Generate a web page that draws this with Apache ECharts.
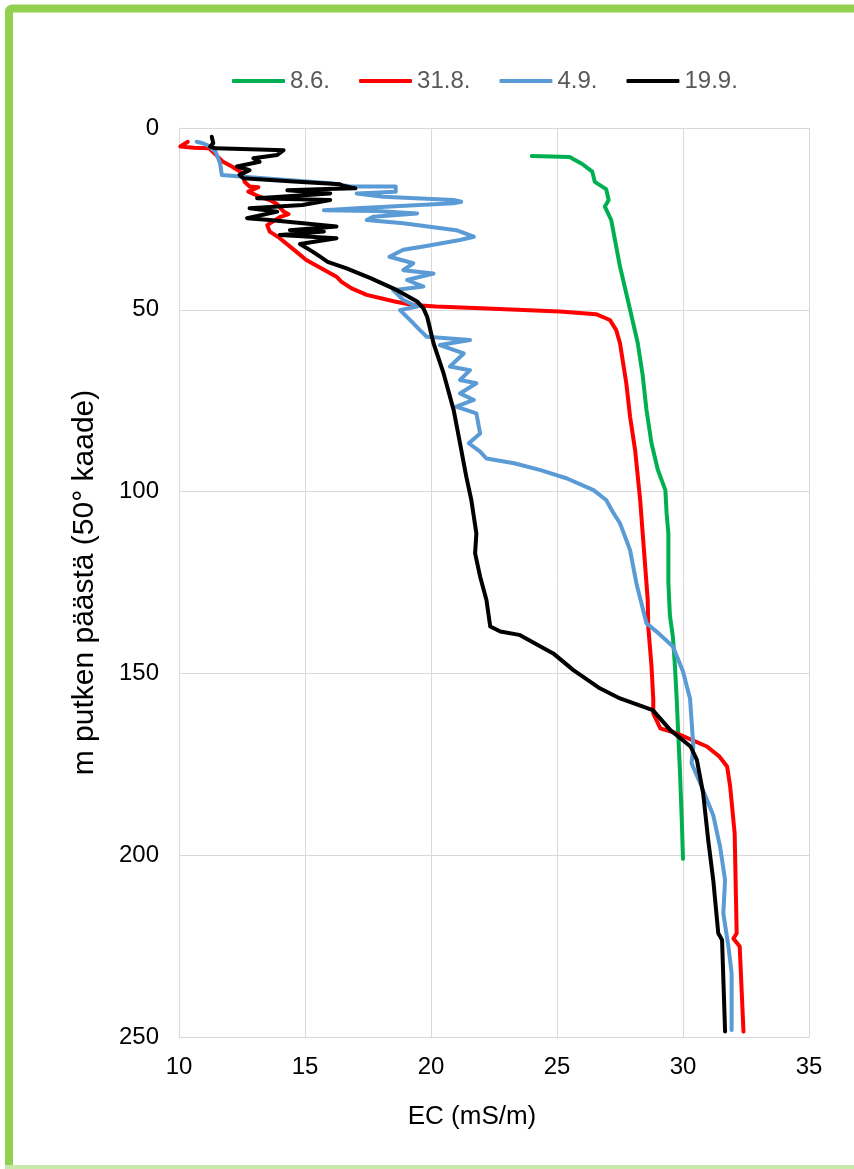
<!DOCTYPE html>
<html>
<head>
<meta charset="utf-8">
<script src="https://cdn.jsdelivr.net/npm/echarts@6/dist/echarts.min.js"></script>
<style>
  html, body { margin: 0; padding: 0; background: #ffffff; }
  #chart { width: 854px; height: 1169px; }
</style>
</head>
<body>
<div id="chart"></div>
<script>
// ---- data: [EC (mS/m), depth (m)] ----
const seriesNames = ['8.6.', '31.8.', '4.9.', '19.9.'];
const seriesColors = ['#00B050', '#FF0000', '#5B9BD5', '#000000'];

const xTicks = [10, 15, 20, 25, 30, 35];
const yTicks = [0, 50, 100, 150, 200, 250];

const profile86 = [
  [24.0, 7.7], [25.5, 8.0], [26.0, 9.9], [26.4, 12.0], [26.5, 14.8], [26.95, 16.8],
  [27.05, 19.8], [26.9, 21.6], [27.15, 25.3], [27.3, 30.8], [27.5, 38.1], [27.75, 45.5],
  [27.9, 50], [28.2, 59], [28.4, 68], [28.55, 77.5], [28.75, 86.7], [29.0, 94],
  [29.3, 99.6], [29.35, 106], [29.42, 111.5], [29.42, 125], [29.48, 134], [29.6, 140],
  [29.68, 148], [29.75, 157], [29.8, 165], [29.88, 177], [29.95, 190], [30.0, 201]
];

const profile318 = [
  [10.35, 3.8], [10.05, 5.1], [10.6, 5.4], [11.2, 5.6], [11.75, 9.3], [12.1, 10.6],
  [12.55, 12.5], [12.6, 14.8], [12.8, 16.1], [13.15, 16.3], [12.75, 17.5], [13.2, 18.9],
  [13.6, 19.8], [13.9, 21], [14.15, 23], [14.35, 23.7], [14.0, 24.5], [13.5, 26.7],
  [13.6, 28.5], [14.0, 30.3], [14.65, 34], [15.05, 36.3], [16.25, 40.9], [16.45, 42.3],
  [16.85, 44.1], [17.45, 45.9], [18.6, 47.8], [19.3, 48.7], [20.2, 49.1], [22.0, 49.6],
  [25.1, 50.5], [26.55, 51.2], [27.1, 52.8], [27.35, 55.6], [27.5, 59.2], [27.75, 70.2],
  [27.9, 79.4], [28.1, 88.6], [28.3, 102.3], [28.5, 120.6], [28.6, 129.8], [28.62, 137],
  [28.75, 148], [28.82, 157], [28.82, 161], [29.1, 165.1], [29.75, 166.5], [30.95, 170.1],
  [31.45, 172.9], [31.75, 175.6], [31.87, 181], [32.05, 194], [32.13, 221.5], [32.0, 222.9],
  [32.25, 225.1], [32.4, 248.5]
];

const profile49 = [
  [10.7, 3.8], [10.95, 4.2], [11.2, 5.0], [11.45, 6.5], [11.63, 9.7], [11.7, 12.9],
  [12.55, 13.4], [14.3, 14.3], [16.0, 15.2], [16.8, 16.1], [18.6, 16.1], [18.6, 17.5],
  [17.05, 18], [18.1, 18.9], [20.9, 19.8], [21.2, 20.3], [20.9, 20.7], [17.05, 22.1],
  [15.75, 22.6], [17.85, 22.8], [19.45, 23.5], [17.7, 24.4], [17.45, 25.3], [18.9, 26.2],
  [21.0, 28.1], [21.7, 29.9], [21.15, 30.8], [19.7, 32.6], [18.9, 33.5], [18.35, 35.4],
  [19.3, 37.2], [18.9, 39.1], [20.1, 40], [19.05, 41.8], [19.7, 43.6], [18.5, 44.6],
  [18.9, 47.3], [19.45, 49.1], [18.77, 50.1], [19.3, 53.7], [19.56, 55.6], [19.83, 57.4],
  [21.55, 58.3], [20.35, 59.7], [21.3, 62], [20.75, 65.6], [21.55, 66.6], [21.15, 69.3],
  [21.8, 70.2], [21.15, 73], [21.7, 74.8], [21.0, 76.6], [21.8, 78.5], [21.95, 84],
  [21.5, 86.7], [21.95, 89], [22.2, 90.9], [23.3, 92.2], [24.35, 94.1], [25.4, 96.4],
  [26.45, 99.6], [26.95, 102.3], [27.25, 106], [27.5, 108.7], [27.9, 116.1], [28.15, 125.2],
  [28.55, 136.2], [28.95, 138.5], [29.6, 142.6], [30.0, 149.5], [30.28, 157], [30.41, 170.1],
  [30.34, 174.7], [30.67, 180], [31.2, 189], [31.47, 197.6], [31.67, 206.8], [31.6, 216],
  [31.8, 225], [31.93, 232.5], [31.93, 248.1]
];

const profile199 = [
  [11.3, 2.4], [11.36, 4.2], [11.23, 5.1], [11.45, 5.6], [12.5, 5.8], [14.15, 6.1],
  [13.9, 7.4], [12.95, 8.3], [13.2, 9.3], [12.3, 10.6], [12.8, 11.6], [12.4, 12.9],
  [12.55, 13.8], [14.7, 14.8], [16.4, 15.5], [16.5, 15.9], [17.0, 16.6], [15.85, 16.8],
  [14.3, 17.1], [16.0, 18], [13.1, 19.3], [16.0, 19.8], [14.9, 21.2], [12.8, 22.1],
  [13.9, 23], [12.7, 24.8], [13.6, 25.3], [16.25, 27.1], [14.4, 28.1], [15.75, 28.5],
  [14.0, 29.4], [16.25, 30.3], [14.8, 31.9], [15.3, 34], [15.6, 35.4], [15.9, 36.8],
  [16.65, 38.6], [17.6, 41.3], [18.65, 44.6], [19.45, 47.7], [19.7, 49.6], [19.85, 52],
  [20.1, 59.2], [20.5, 67.5], [20.9, 77.6], [21.15, 86.7], [21.4, 95.9], [21.6, 102.3],
  [21.8, 111.5], [21.75, 117], [21.95, 123.4], [22.2, 129.8], [22.35, 137.1], [22.75, 138.5],
  [23.5, 139.4], [24.85, 144.5], [25.65, 149.1], [26.7, 154.1], [27.5, 156.9], [28.8, 160.1],
  [29.5, 165.6], [30.3, 170.1], [30.55, 173.8], [30.8, 183], [31.0, 195.8], [31.2, 206.8],
  [31.4, 221.5], [31.55, 223.3], [31.67, 248.5]
];

const profiles = [profile86, profile318, profile49, profile199];

// ---- chart ----
const FONT = '"Liberation Sans", Arial, sans-serif';
const chart = echarts.init(document.getElementById('chart'), null, { renderer: 'canvas' });

const option = {
  backgroundColor: '#ffffff',
  animation: false,
  textStyle: { fontFamily: FONT },
  legend: {
    data: seriesNames,
    icon: 'roundRect',
    left: 232,
    top: 69,
    padding: 0,
    itemWidth: 53,
    itemHeight: 4,
    itemGap: 29,
    textStyle: { fontSize: 24, color: '#595959', fontFamily: FONT }
  },
  grid: { left: 179, right: 45, top: 128, bottom: 132, containLabel: false },
  xAxis: {
    type: 'value',
    min: xTicks[0],
    max: xTicks[xTicks.length - 1],
    interval: xTicks[1] - xTicks[0],
    name: 'EC (mS/m)',
    nameLocation: 'middle',
    nameGap: 67,
    nameTextStyle: { fontSize: 26, color: '#000', fontFamily: FONT, padding: [0, 44, 0, 0] },
    axisLine: { show: true, onZero: false, lineStyle: { color: '#D9D9D9', width: 1 } },
    axisTick: { show: false },
    axisLabel: { fontSize: 24, color: '#000', margin: 18, fontFamily: FONT },
    splitLine: { show: true, lineStyle: { color: '#D9D9D9', width: 1 } }
  },
  yAxis: {
    type: 'value',
    inverse: true,
    min: yTicks[0],
    max: yTicks[yTicks.length - 1],
    interval: yTicks[1] - yTicks[0],
    name: 'm putken päästä (50° kaade)',
    nameLocation: 'middle',
    nameRotate: 90,
    nameGap: 79,
    nameTextStyle: { fontSize: 30, color: '#000', fontFamily: FONT },
    axisLine: { show: true, onZero: false, lineStyle: { color: '#D9D9D9', width: 1 } },
    axisTick: { show: false },
    axisLabel: { fontSize: 24, color: '#000', margin: 20, fontFamily: FONT },
    splitLine: { show: true, lineStyle: { color: '#D9D9D9', width: 1 } }
  },
  series: seriesNames.map((name, i) => ({
    name: name,
    type: 'line',
    data: profiles[i],
    symbol: 'none',
    showSymbol: false,
    smooth: false,
    color: seriesColors[i],
    lineStyle: { color: seriesColors[i], width: 4, cap: 'round', join: 'round' },
    z: 2 + i
  })),
  graphic: [
    {
      type: 'rect',
      silent: true,
      z: 100,
      shape: { x: 9, y: 8.5, width: 900, height: 1180, r: 3 },
      style: { fill: 'none', stroke: '#92D050', lineWidth: 8 }
    },
    {
      type: 'line',
      silent: true,
      z: 100,
      shape: { x1: 5, y1: 1167, x2: 854, y2: 1167 },
      style: { stroke: '#C9E8AC', lineWidth: 4 }
    }
  ]
};

chart.setOption(option);
</script>
</body>
</html>
